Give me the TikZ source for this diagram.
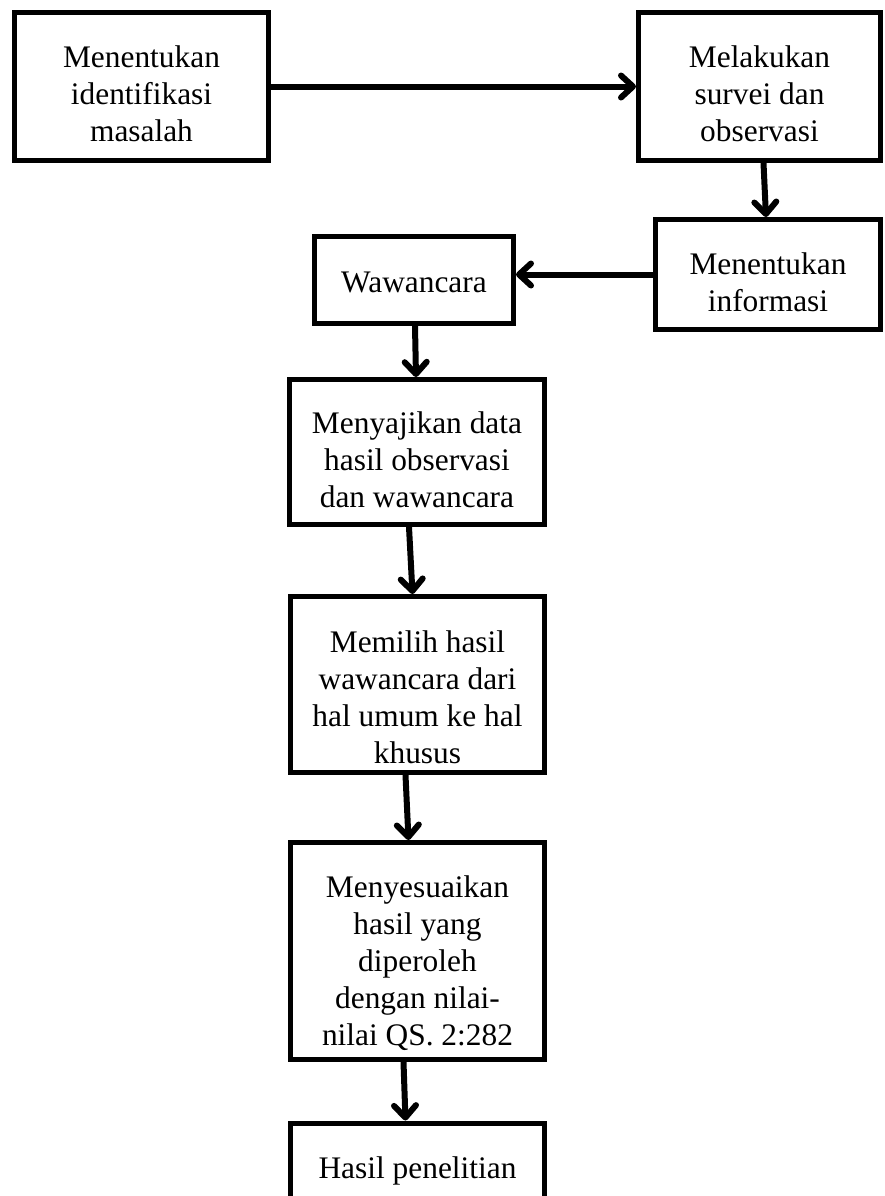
\documentclass[tikz,border=0pt]{standalone}
\usepackage{fontspec}
\setmainfont{Liberation Serif}
\usetikzlibrary{arrows.meta}
\newcommand{\tsp}[1]{\rule{0pt}{#1bp}}
\tikzset{bx/.append style={draw, rectangle, line width=5bp, align=center, inner sep=0pt, font=\fontsize{31.5}{37}\selectfont}}
\tikzset{ar/.append style={line width=6bp, line cap=round, -{Straight Barb[length=12bp,width=22bp,round]}}}

\begin{document}
\begin{tikzpicture}[x=1bp,y=-1bp]
                \useasboundingbox (0,0) rectangle (885,1196);
                \clip (0,0) rectangle (885,1196);
                % \SetUpBoxes
                \node[bx, minimum width=254bp, minimum height=148bp] (iden) at (141.5,86.5) {\tsp{37}Menentukan\\identifikasi\\masalah};
                \node[bx, minimum width=242bp, minimum height=148bp] (surv) at (759.5,86.5) {\tsp{37}Melakukan\\survei dan\\observasi};
                \node[bx, minimum width=225bp, minimum height=110bp] (info) at (768,274.5) {\tsp{37}Menentukan\\informasi};
                \node[bx, minimum width=199bp, minimum height=87bp] (waw) at (414,280) {\tsp{26}Wawancara};
                \node[bx, minimum width=255bp, minimum height=145bp] (saji) at (417,452) {\tsp{37}Menyajikan data\\hasil observasi\\dan wawancara};
                \node[bx, minimum width=254bp, minimum height=176bp] (pilih) at (417.5,684.5) {\tsp{47}Memilih hasil\\wawancara dari\\hal umum ke hal\\khusus};
                \node[bx, minimum width=254bp, minimum height=217bp] (sesuai) at (417.5,951) {\tsp{46}Menyesuaikan\\hasil yang\\diperoleh\\dengan nilai-\\nilai QS. 2:282};
                \node[bx, minimum width=254bp, minimum height=84bp] (hasil) at (417.5,1165) {\tsp{34}Hasil penelitian};
                \draw[ar] (iden) -- (surv);
                \draw[ar] ([xshift=4bp]surv.south) -- ([xshift=-2bp]info.north);
                \draw[ar] (info.west) -- (info.west -| waw.east);
                \draw[ar] ([xshift=1bp]waw.south) -- ([xshift=-1bp]saji.north);
                \draw[ar] ([xshift=-8bp]saji.south) -- ([xshift=-5bp]pilih.north);
                \draw[ar] ([xshift=-12bp]pilih.south) -- ([xshift=-9bp]sesuai.north);
                \draw[ar] ([xshift=-14bp]sesuai.south) -- ([xshift=-12bp]hasil.north);
\end{tikzpicture}
\end{document}
